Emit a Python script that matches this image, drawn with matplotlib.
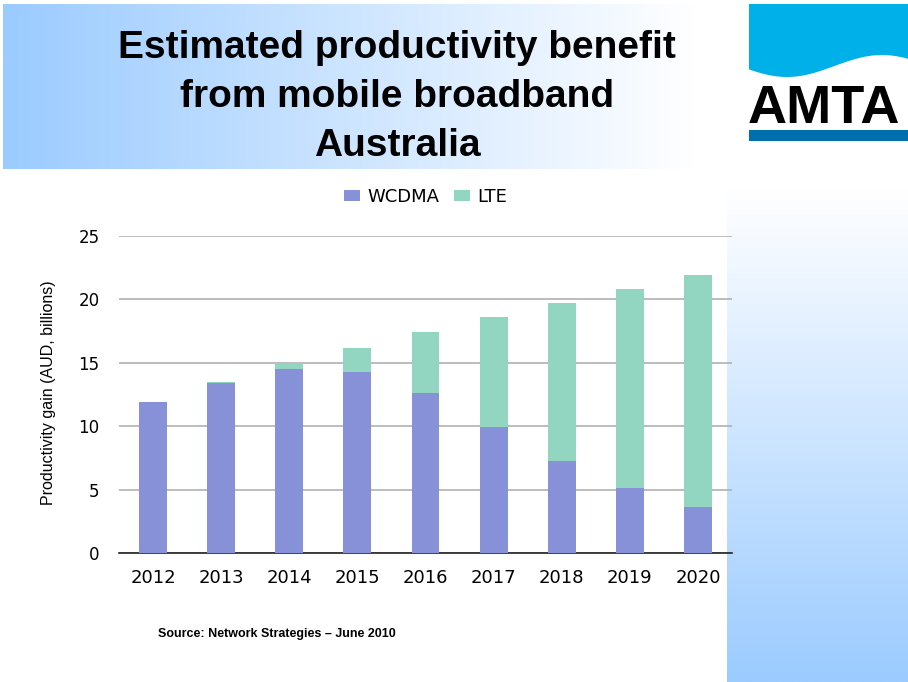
import matplotlib.pyplot as plt
import numpy as np
from matplotlib.patches import Rectangle, Polygon

# -------- data ---------------------
years = ['2012', '2013', '2014', '2015', '2016', '2017', '2018', '2019', '2020']
wcdma = [11.9, 13.4, 14.5, 14.3, 12.6, 9.95, 7.3, 5.15, 3.65]
lte = [0.0, 0.1, 0.5, 1.9, 4.85, 8.65, 12.4, 15.65, 18.25]
yticks = [0, 5, 10, 15, 20, 25]

title_lines = ['Estimated productivity benefit', 'from mobile broadband', 'Australia']
source = 'Source: Network Strategies \u2013 June 2010'

W, H = 908, 682
fig = plt.figure(figsize=(W / 100, H / 100), dpi=100)

# -------- slide background (pixel coords, y down) ---------
bg = fig.add_axes([0, 0, 1, 1], zorder=0)
bg.axis('off')

light = np.array([155, 203, 255]) / 255.
white = np.ones(3)

# header band: blue on the left fading to white
t = np.linspace(0, 1, 256)
grad_h = (light[None, :] * (1 - t[:, None]) + white[None, :] * t[:, None])[None, :, :]
bg.imshow(grad_h, extent=[3, 695, 169, 4], aspect='auto', interpolation='bilinear')

# right strip: white at top to blue at the bottom
grad_v = (white[None, :] * (1 - t[:, None]) + light[None, :] * t[:, None])[:, None, :]
bg.imshow(grad_v, extent=[727, 908, 682, 189], aspect='auto', interpolation='bilinear')

# logo
xs = np.linspace(749, 908, 80)
wave = 66 + 11 * np.cos(2 * np.pi * (xs - 787) / 190)
pts = [(749, 4), (908, 4)] + list(zip(xs[::-1], wave[::-1]))
bg.add_patch(Polygon(pts, closed=True, facecolor='#00B0E8', edgecolor='none'))
bg.text(748, 123, 'AMTA', fontsize=39, fontweight='bold', family='Liberation Sans',
        color='black', ha='left', va='baseline')
bg.add_patch(Rectangle((749, 130), 159, 11, facecolor='#006FAE', edgecolor='none'))

bg.set_xlim(0, W)
bg.set_ylim(H, 0)

# title
for line, yb in zip(title_lines, [58, 107, 156]):
    bg.text(397, yb, line, fontsize=28, fontweight='bold', family='Liberation Sans',
            ha='center', va='baseline', color='black')

# source note
bg.text(277, 637, source, fontsize=9, fontweight='bold', family='Liberation Sans',
        ha='center', va='baseline')

# -------- chart ---------------------
ax = fig.add_axes([119 / W, 1 - 553.3 / H, 613 / W, 317.3 / H], zorder=1)
ax.set_facecolor('none')

x = np.arange(len(years))
ax.bar(x, wcdma, width=0.41, color='#8791D7', label='WCDMA', zorder=3)
ax.bar(x, lte, width=0.41, bottom=wcdma, color='#92D6C1', label='LTE', zorder=3)

ax.set_xlim(-0.5, len(years) - 0.5)
ax.set_ylim(0, 25)
ax.set_yticks(yticks)
ax.set_xticks(x)
ax.set_xticklabels(years)
ax.yaxis.grid(True, color='#B0B0B0', linewidth=1.2, zorder=0)
ax.set_axisbelow(True)
for s in ['top', 'right', 'left']:
    ax.spines[s].set_visible(False)
ax.spines['bottom'].set_color('#222222')
ax.spines['bottom'].set_linewidth(1.2)
ax.tick_params(axis='y', length=0, pad=14, labelsize=12)
ax.tick_params(axis='x', length=0, pad=11, labelsize=13)

ax.set_ylabel('Productivity gain (AUD, billions)', fontsize=11.5, family='Liberation Sans')
ax.yaxis.set_label_coords(-0.103, 0.505)

ax.legend(loc='center', bbox_to_anchor=(0.5, 1.123), ncol=2, frameon=False,
          fontsize=13, handlelength=0.9, handleheight=0.6, handletextpad=0.4,
          columnspacing=0.8)

plt.savefig('out.png', dpi=100)
